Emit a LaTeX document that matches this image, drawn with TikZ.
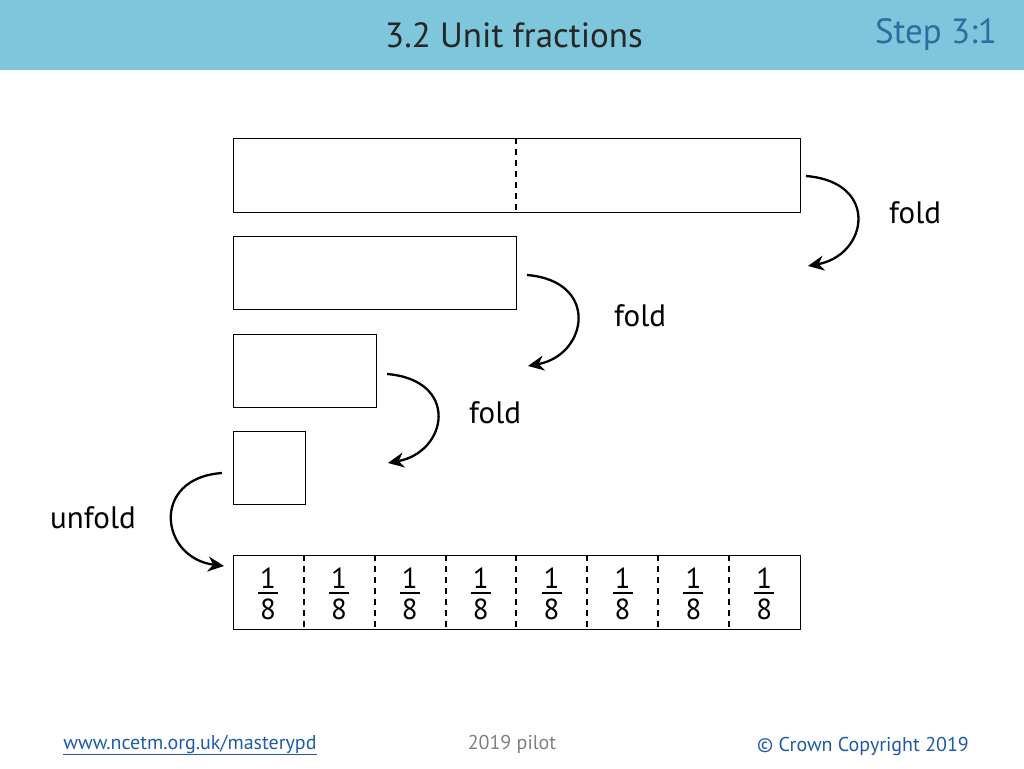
\documentclass[tikz,border=0pt]{standalone}
\usepackage{fontspec}
\setmainfont{PT Sans}
\usetikzlibrary{arrows.meta}
\definecolor{band}{RGB}{125,198,220}
\definecolor{stepc}{RGB}{45,110,160}
\definecolor{linkc}{RGB}{30,90,170}
\begin{document}
\begin{tikzpicture}[x=1pt,y=-1pt,
  box/.style={draw,line width=1pt},
  dsh/.style={line width=1.6pt,dash pattern=on 6pt off 5pt},
  arr/.style={line width=2.3pt,-{Stealth[length=16pt,width=15pt]}},
  lbl/.style={font=\fontsize{31}{32}\selectfont},
  frac/.style={font=\fontsize{29}{29}\selectfont,inner sep=0pt}]
\useasboundingbox (0,0) rectangle (1024,768);
\fill[band] (0,0) rectangle (1024,70);
\node[font=\fontsize{35}{36}\selectfont,text=black!85] (title) at (514,35) {3.2 Unit fractions};
\node[font=\fontsize{35}{36}\selectfont,text=stepc] (step) at (936,35) {Step 3:1};
% rectangles
\draw[box] (233,138) rectangle (800,212);
\draw[dsh] (516,138) -- (516,212);
\draw[box] (233,236) rectangle (516,309);
\draw[box] (233,334) rectangle (376,407);
\draw[box] (233,431) rectangle (305,504);
\draw[box] (233,555) rectangle (800,629);
\foreach \x in {304,375,446,516,587,658,729} \draw[dsh] (\x,555) -- (\x,629);
\foreach \k in {0,...,7} {
  \node[frac] (n\k) at (268+70.9*\k,578) {1};
  \draw[line width=1.5pt] (258+70.9*\k,593) -- (278+70.9*\k,593);
  \node[frac] (d\k) at (268+70.9*\k,609) {8};
}
% arrows
\coordinate (a1) at (806,176); \coordinate (b1) at (808,266);
\draw[arr] (a1) .. controls (880,182) and (868,255) .. (b1);
\node[lbl] (f1) at (915,213) {fold};
\coordinate (a2) at (527,275); \coordinate (b2) at (528,366);
\draw[arr] (a2) .. controls (600,281) and (588,355) .. (b2);
\node[lbl] (f2) at (640,316) {fold};
\coordinate (a3) at (387,374); \coordinate (b3) at (388,463);
\draw[arr] (a3) .. controls (460,380) and (448,452) .. (b3);
\node[lbl] (f3) at (495,413) {fold};
\coordinate (a4) at (222,473); \coordinate (b4) at (224,566);
\draw[arr] (a4) .. controls (150,478) and (160,558) .. (b4);
\node[lbl] (u) at (93,518) {unfold};
% footer
\node[font=\fontsize{20}{22}\selectfont,text=linkc] (url) at (190,745) {\underline{www.ncetm.org.uk/masterypd}};
\node[font=\fontsize{20}{22}\selectfont,text=black!50] (pilot) at (512,744) {2019 pilot};
\node[font=\fontsize{20}{22}\selectfont,text=linkc] (copy) at (863,746) {© Crown Copyright 2019};
\end{tikzpicture}
\end{document}
